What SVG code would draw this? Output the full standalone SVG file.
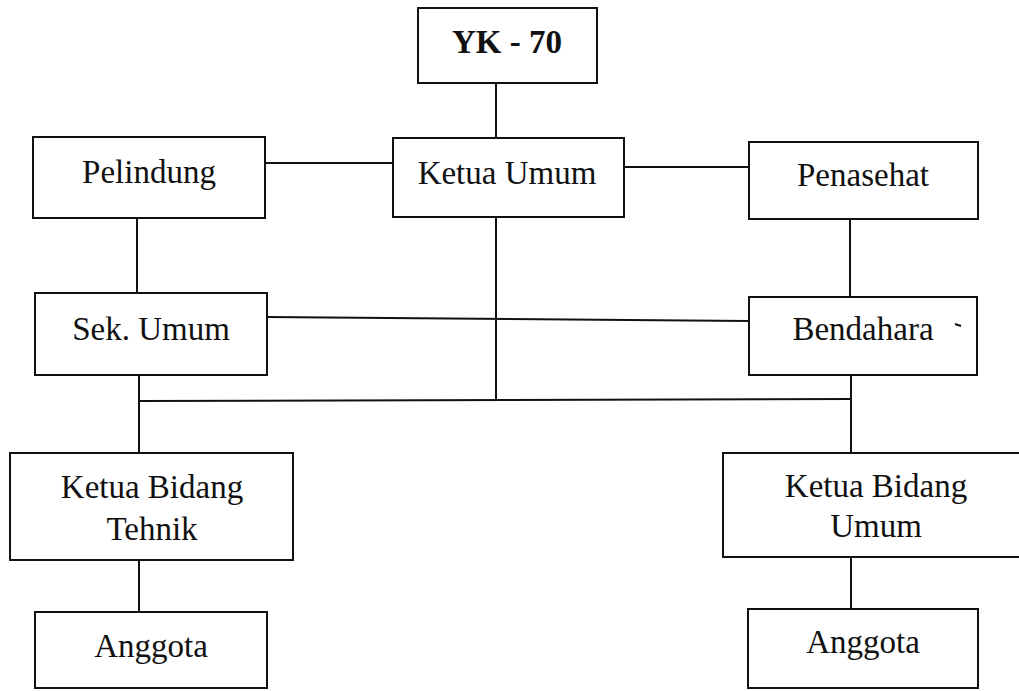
<svg xmlns="http://www.w3.org/2000/svg" width="1019" height="691" viewBox="0 0 1019 691">
<style>
.box{fill:#fff;stroke:#111;stroke-width:2}
.ln{stroke:#111;stroke-width:2;fill:none}
text{font-family:"Liberation Serif","Times New Roman",serif;font-size:33px;fill:#111;text-anchor:middle}
.b{font-weight:bold}
</style>
<rect width="1019" height="691" fill="#fff"/>
<g id="connectors">
<line class="ln" x1="496" y1="83" x2="496" y2="138"/>
<line class="ln" x1="265" y1="163" x2="393" y2="163"/>
<line class="ln" x1="624" y1="167" x2="749" y2="167"/>
<line class="ln" x1="137" y1="218" x2="137" y2="293"/>
<line class="ln" x1="850" y1="219" x2="850" y2="297"/>
<line class="ln" x1="267" y1="317" x2="749" y2="321"/>
<line class="ln" x1="496" y1="217" x2="496" y2="400"/>
<line class="ln" x1="139" y1="375" x2="139" y2="453"/>
<line class="ln" x1="139" y1="401" x2="851" y2="399"/>
<line class="ln" x1="851" y1="375" x2="851" y2="453"/>
<line class="ln" x1="139" y1="560" x2="139" y2="612"/>
<line class="ln" x1="851" y1="557" x2="851" y2="609"/>
</g>
<g id="yk70"><rect class="box" x="418" y="8" width="179" height="75"/><text class="b" x="507" y="53">YK - 70</text></g>
<g id="ketua-umum"><rect class="box" x="393" y="138" width="231" height="79"/><text x="507" y="184">Ketua Umum</text></g>
<g id="pelindung"><rect class="box" x="33" y="137" width="232" height="81"/><text x="149" y="183">Pelindung</text></g>
<g id="penasehat"><rect class="box" x="749" y="142" width="229" height="77"/><text x="863" y="186">Penasehat</text></g>
<g id="sek-umum"><rect class="box" x="35" y="293" width="232" height="82"/><text x="151" y="340">Sek. Umum</text></g>
<g id="bendahara"><rect class="box" x="749" y="297" width="228" height="78"/><text x="863" y="340">Bendahara</text><path class="ln" d="M955 324 L961 326" stroke-width="2.5"/></g>
<g id="ketua-bidang-tehnik"><rect class="box" x="10" y="453" width="283" height="107"/><text x="152" y="498">Ketua Bidang</text><text x="152" y="540">Tehnik</text></g>
<g id="ketua-bidang-umum"><rect class="box" x="723" y="453" width="310" height="104"/><text x="876" y="497">Ketua Bidang</text><text x="876" y="537">Umum</text></g>
<g id="anggota-1"><rect class="box" x="35" y="612" width="232" height="76"/><text x="151" y="657">Anggota</text></g>
<g id="anggota-2"><rect class="box" x="748" y="609" width="230" height="79"/><text x="863" y="653">Anggota</text></g>
</svg>
